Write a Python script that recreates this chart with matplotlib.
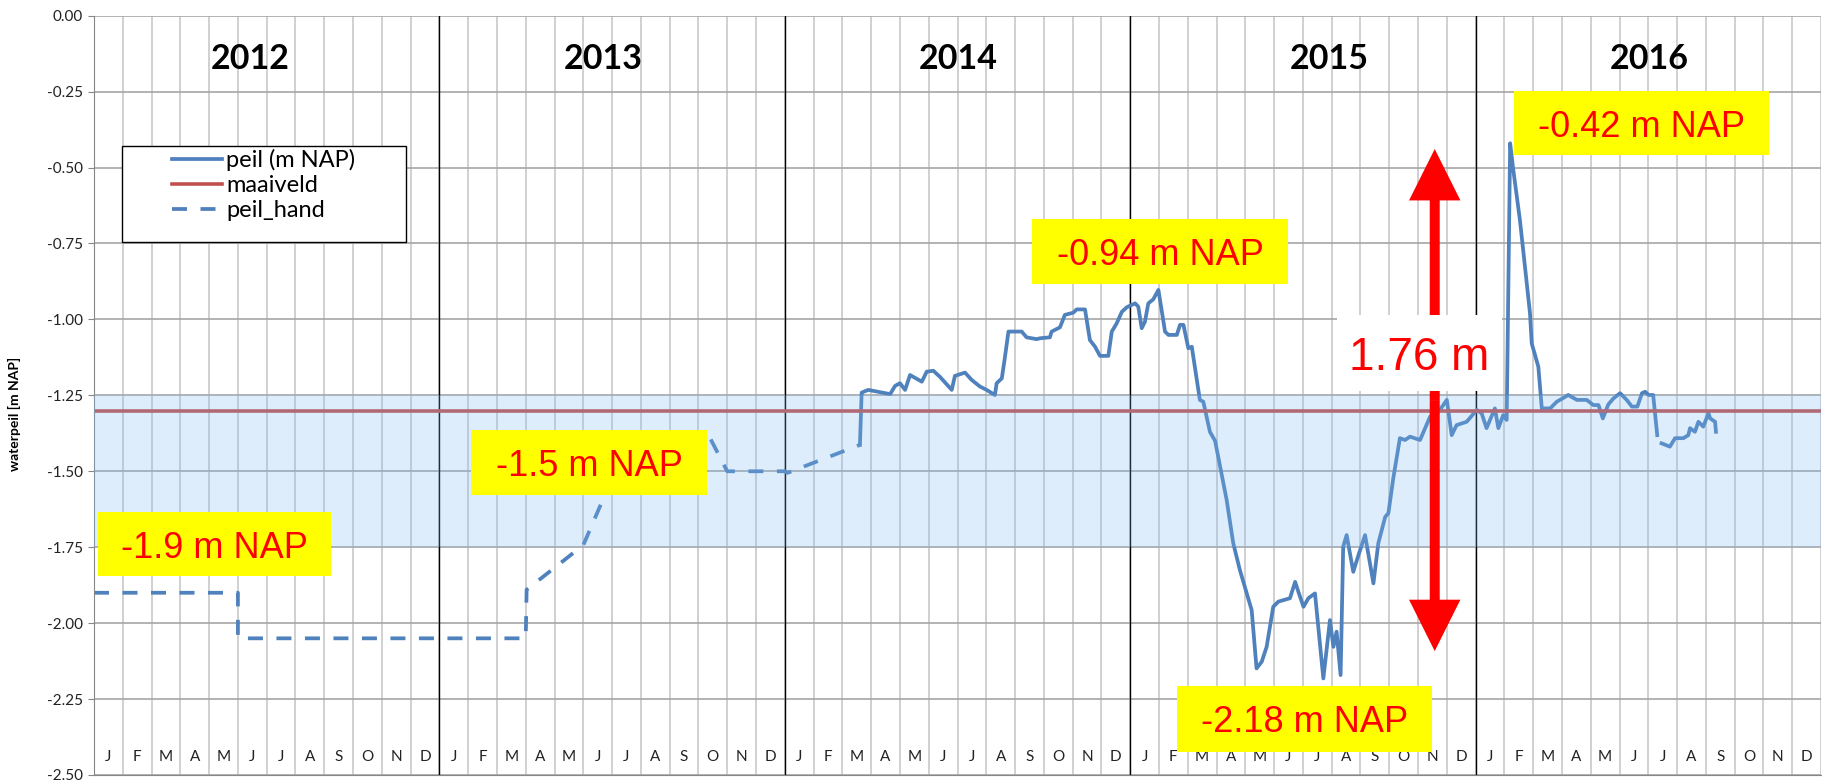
import numpy as np
import matplotlib
matplotlib.use("Agg")
import matplotlib.pyplot as plt
from matplotlib.patches import Rectangle, FancyArrowPatch
from matplotlib.lines import Line2D

# x = maanden sinds 1 jan 2012, y = peil in m NAP
jaren = ["2012", "2013", "2014", "2015", "2016"]
jaar_pos = [5.42, 17.70, 30.01, 42.91, 54.03]
maanden = ["J", "F", "M", "A", "M", "J", "J", "A", "S", "O", "N", "D"]

hand_x = [0, 5.0, 5.0, 15.0, 15.03, 17.0, 17.75, 18.4, 21.4, 22.0, 24.0, 24.1, 26.61]
hand_y = [-1.90, -1.90, -2.05, -2.05, -1.89, -1.743, -1.578, -1.40, -1.39, -1.50, -1.50, -1.505, -1.413]

peil_x = [26.61, 26.67, 26.9, 27.66, 27.83, 28.0, 28.18, 28.35, 28.76, 28.93, 29.16, 29.39,
          29.80, 29.91, 30.26, 30.49, 30.78, 31.01, 31.30, 31.36, 31.54, 31.65, 31.77, 32.23,
          32.40, 32.75, 32.87, 33.21, 33.27, 33.56, 33.73, 34.02, 34.14, 34.43, 34.60, 34.78,
          34.95, 35.24, 35.36, 35.53, 35.71, 35.88, 36.17, 36.28, 36.40, 36.51, 36.63, 36.80,
          36.98, 37.21, 37.33, 37.62, 37.73, 37.85, 38.02, 38.14, 38.42, 38.54, 38.77, 38.95,
          39.35, 39.58, 39.81, 40.22, 40.39, 40.57, 40.74, 40.97, 41.15, 41.55, 41.73, 41.84,
          42.02, 42.19, 42.42, 42.71, 42.94, 43.06, 43.17, 43.31, 43.40, 43.52, 43.75, 43.93,
          44.16, 44.45, 44.62, 44.86, 44.97, 45.14, 45.37, 45.55, 45.72, 46.07, 46.42, 46.76,
          47.0, 47.17, 47.34, 47.69, 48.04, 48.21, 48.38, 48.67, 48.79, 48.96, 49.08, 49.20,
          49.31, 49.54, 49.89, 49.95, 50.18, 50.30, 50.59, 50.82, 51.22, 51.52, 51.86, 52.09,
          52.27, 52.42, 52.61, 52.79, 53.02, 53.25, 53.43, 53.62, 53.78, 53.89, 54.01, 54.17,
          54.31, 54.38, 54.46, 54.75, 54.93, 55.22, 55.39, 55.45, 55.62, 55.74, 55.91, 56.09,
          56.15, 56.32, 56.35]
peil_y = [-1.413, -1.241, -1.232, -1.246, -1.219, -1.210, -1.232, -1.183, -1.205, -1.172, -1.169, -1.189,
          -1.232, -1.186, -1.175, -1.199, -1.221, -1.232, -1.249, -1.210, -1.194, -1.123, -1.040, -1.040,
          -1.059, -1.065, -1.062, -1.059, -1.040, -1.026, -0.985, -0.978, -0.967, -0.967, -1.068, -1.090,
          -1.120, -1.120, -1.040, -1.013, -0.975, -0.960, -0.947, -0.958, -1.029, -1.008, -0.947, -0.934,
          -0.903, -1.040, -1.051, -1.051, -1.018, -1.018, -1.095, -1.090, -1.265, -1.271, -1.370, -1.400,
          -1.594, -1.737, -1.825, -1.957, -2.149, -2.127, -2.078, -1.946, -1.929, -1.918, -1.864, -1.896,
          -1.946, -1.918, -1.902, -2.182, -1.990, -2.078, -2.028, -2.171, -1.748, -1.710, -1.831, -1.776,
          -1.710, -1.869, -1.737, -1.650, -1.638, -1.523, -1.391, -1.397, -1.386, -1.397, -1.320, -1.298,
          -1.265, -1.381, -1.348, -1.337, -1.298, -1.309, -1.358, -1.293, -1.358, -1.315, -1.331, -0.420,
          -0.508, -0.673, -0.980, -1.079, -1.156, -1.293, -1.293, -1.271, -1.249, -1.265, -1.265, -1.282,
          -1.282, -1.326, -1.280, -1.260, -1.243, -1.265, -1.287, -1.287, -1.243, -1.238, -1.249, -1.249,
          -1.381, np.nan, -1.408, -1.419, -1.391, -1.391, -1.381, -1.358, -1.370, -1.337, -1.353, -1.309,
          -1.326, -1.337, -1.370]

maaiveld = -1.30
band = (-1.75, -1.25)

# labels: tekst, x0, x1, y0, y1, achtergrond, fontsize
labels = [
    ("-1.9 m NAP", 0.14, 8.24, -1.845, -1.634, "#FFFF00", 26),
    ("-1.5 m NAP", 13.10, 21.30, -1.578, -1.364, "#FFFF00", 26),
    ("-0.94 m NAP", 32.6, 41.49, -0.883, -0.669, "#FFFF00", 26),
    ("-2.18 m NAP", 37.63, 46.48, -2.424, -2.207, "#FFFF00", 26),
    ("-0.42 m NAP", 49.34, 58.20, -0.459, -0.248, "#FFFF00", 26),
    ("1.76 m", 43.19, 48.92, -1.236, -0.985, "white", 33),
]
pijl_x = 46.58
pijl_y = (-2.092, -0.439)

blauw = "#4F81BD"
rood = "#C0504D"
font = ["Lato", "DejaVu Sans"]
arial = ["Liberation Sans", "DejaVu Sans"]

fig = plt.figure(figsize=(18.23, 7.80), dpi=100)
ax = fig.add_axes([94 / 1823, 5 / 780, 1727 / 1823, 759.3 / 780])
ax.set_xlim(0, 60)
ax.set_ylim(-2.5, 0)

# raster
ax.set_xticks(np.arange(0, 61))
ax.set_xticklabels([])
ax.set_yticks(np.arange(-2.5, 0.01, 0.25))
ax.set_yticklabels([f"{v:.2f}" for v in np.arange(-2.5, 0.01, 0.25)], fontfamily=font, fontsize=11)
ax.tick_params(axis="x", length=0)
ax.tick_params(axis="y", direction="out", length=4.5, color="#868686", labelcolor="#222222")
ax.grid(axis="x", color="#C8C8C8", lw=1.2, zorder=0)
ax.grid(axis="y", color="#A6A6A6", lw=1.2, zorder=0)
ax.set_axisbelow(True)
for s in ["top", "right"]:
    ax.spines[s].set_visible(False)
for s in ["left", "bottom"]:
    ax.spines[s].set_color("#868686")
for j in range(1, len(jaren)):
    ax.axvline(j * 12, color="black", lw=1.0, zorder=1)

# jaren en maanden
for j, jaar in enumerate(jaren):
    ax.text(jaar_pos[j], -0.143, jaar, ha="center", va="center", fontsize=24.5,
            fontweight="bold", fontfamily=font)
    for m, mnd in enumerate(maanden):
        ax.text(j * 12 + m + 0.5, -2.44, mnd, ha="center", va="center", fontsize=11,
                fontfamily=font, color="#222222")

# reeksen
ax.plot(hand_x, hand_y, color=blauw, lw=2.7, ls=(0, (4.0, 3.6)), zorder=2)
ax.plot(peil_x, peil_y, color=blauw, lw=2.7, zorder=2)
ax.axhline(maaiveld, color=rood, lw=2.6, zorder=2)
ax.axhspan(band[0], band[1], color="#7FBBF3", alpha=0.25, lw=0, zorder=3)

# pijl
ymid = (pijl_y[0] + pijl_y[1]) / 2
for yt in pijl_y:
    ax.add_patch(FancyArrowPatch((pijl_x, ymid), (pijl_x, yt), arrowstyle="simple,head_length=37,head_width=37,tail_width=7.2",
                                 mutation_scale=1, color="#FF0000", lw=0, shrinkA=0, shrinkB=0, zorder=4))

# tekstvakken
for tekst, x0, x1, y0, y1, kleur, fs in labels:
    ax.add_patch(Rectangle((x0, y0), x1 - x0, y1 - y0, facecolor=kleur, edgecolor="none", zorder=5))
    ax.text((x0 + x1) / 2, (y0 + y1) / 2, tekst, ha="center", va="center_baseline", fontsize=fs,
            color="#FF0000", fontfamily=arial, zorder=6)

# legenda
ax.add_patch(Rectangle((0.0162, 0.7020), 0.1807 - 0.0162, 0.8284 - 0.7020, transform=ax.transAxes,
                       facecolor="white", edgecolor="black", lw=1.0, zorder=7))
handles = [Line2D([], [], color=blauw, lw=2.7),
           Line2D([], [], color=rood, lw=2.6),
           Line2D([], [], color=blauw, lw=2.7, ls=(0, (4.0, 3.6)))]
leg = ax.legend(handles, ["peil (m NAP)", "maaiveld", "peil_hand"], loc="upper left",
                bbox_to_anchor=(0.0452, 0.8244), frameon=False, borderpad=0, borderaxespad=0,
                handlelength=2.1, handletextpad=0.2, labelspacing=0.17,
                prop={"family": font, "size": 17})
leg.set_zorder(8)

ax.set_ylabel("waterpeil [m NAP]", fontsize=10, fontweight="bold", fontfamily=font)
ax.yaxis.set_label_coords(-(94 - 21) / 1727, 0.4754)

fig.savefig("out.png", dpi=100)
